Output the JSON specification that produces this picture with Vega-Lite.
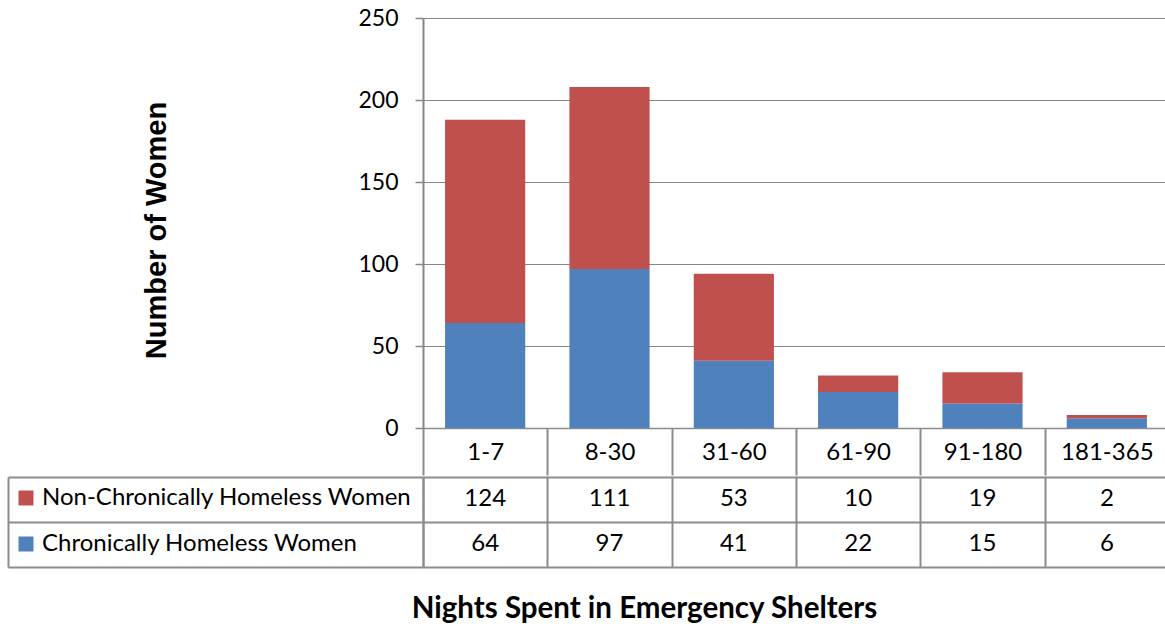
{
  "$schema": "https://vega.github.io/schema/vega-lite/v6.json",
  "padding": {"left": 7, "top": 7, "right": 0, "bottom": 0},
  "background": "white",
  "config": {"view": {"stroke": null}, "font": "Lato"},
  "datasets": {
    "w": [
      {"nights": "1-7", "group": "Chronically Homeless Women", "women": 64},
      {"nights": "1-7", "group": "Non-Chronically Homeless Women", "women": 124},
      {"nights": "8-30", "group": "Chronically Homeless Women", "women": 97},
      {"nights": "8-30", "group": "Non-Chronically Homeless Women", "women": 111},
      {"nights": "31-60", "group": "Chronically Homeless Women", "women": 41},
      {"nights": "31-60", "group": "Non-Chronically Homeless Women", "women": 53},
      {"nights": "61-90", "group": "Chronically Homeless Women", "women": 22},
      {"nights": "61-90", "group": "Non-Chronically Homeless Women", "women": 10},
      {"nights": "91-180", "group": "Chronically Homeless Women", "women": 15},
      {"nights": "91-180", "group": "Non-Chronically Homeless Women", "women": 19},
      {"nights": "181-365", "group": "Chronically Homeless Women", "women": 6},
      {"nights": "181-365", "group": "Non-Chronically Homeless Women", "women": 2}
    ]
  },
  "spacing": 0,
  "resolve": {"scale": {"color": "independent"}, "legend": {"color": "independent"}},
  "vconcat": [
    {
      "width": 746,
      "height": 410,
      "data": {"name": "w"},
      "mark": {"type": "bar", "width": {"band": 0.645}},
      "encoding": {
        "x": {
          "field": "nights", "type": "nominal", "sort": null,
          "scale": {"paddingInner": 0, "paddingOuter": 0},
          "axis": {
            "title": null, "labelAngle": 0, "labelFont": "Lato", "labelFontSize": 24,
            "labelColor": "black", "labelPadding": -23, "labelBaseline": "middle",
            "tickBand": "extent", "tickSize": 47, "tickColor": "#8c8c8c", "tickWidth": 2,
            "domainColor": "#8c8c8c", "domainWidth": 1.5, "grid": false
          }
        },
        "y": {
          "field": "women", "type": "quantitative", "stack": "zero",
          "scale": {"domain": [0, 250]},
          "axis": {
            "values": [0, 50, 100, 150, 200, 250],
            "title": "Number of Women", "titleFont": "Liberation Sans", "titleFontSize": 29,
            "titleFontWeight": "bold", "titleColor": "black", "titlePadding": 186, "titleY": 212,
            "labelFont": "Lato", "labelFontSize": 23, "labelColor": "black", "labelPadding": 17,
            "tickSize": 8, "tickColor": "#868686", "tickWidth": 1.5,
            "domainColor": "#868686", "domainWidth": 2,
            "grid": true, "gridColor": "#868686", "gridWidth": 1
          }
        },
        "color": {
          "field": "group", "type": "nominal",
          "scale": {"domain": ["Non-Chronically Homeless Women", "Chronically Homeless Women"], "range": ["#C0504D", "#4F81BD"]},
          "legend": null
        },
        "order": {"field": "group", "sort": "ascending"}
      }
    },
    {
      "width": 746,
      "height": 90,
      "data": {"name": "w"},
      "resolve": {"axis": {"y": "independent"}},
      "layer": [
        {
          "mark": {"type": "text", "font": "Lato", "fontSize": 24, "color": "black", "dy": -1},
          "encoding": {
            "text": {"field": "women", "type": "quantitative"},
            "x": {
              "field": "nights", "type": "nominal", "sort": null,
              "scale": {"paddingInner": 0, "paddingOuter": 0},
              "axis": {
                "orient": "bottom", "grid": true, "gridColor": "#8c8c8c", "gridWidth": 2,
                "tickBand": "extent", "labels": false, "ticks": false, "domain": false,
                "title": "Nights Spent in Emergency Shelters", "titleFont": "Lato",
                "titleFontSize": 29.5, "titleFontWeight": "bold", "titleColor": "black",
                "titleX": 221, "titlePadding": 27
              }
            },
            "y": {
              "field": "group", "type": "nominal",
              "sort": ["Non-Chronically Homeless Women", "Chronically Homeless Women"],
              "scale": {"paddingInner": 0, "paddingOuter": 0},
              "axis": {
                "title": null, "labels": false, "grid": true, "gridColor": "#8c8c8c", "gridWidth": 2,
                "tickBand": "extent", "tickSize": 415, "tickColor": "#8c8c8c", "tickWidth": 2,
                "domainColor": "#8c8c8c", "domainWidth": 2
              }
            }
          }
        },
        {
          "mark": {"type": "square", "opacity": 0},
          "encoding": {
            "y": {
              "field": "group", "type": "nominal",
              "sort": ["Non-Chronically Homeless Women", "Chronically Homeless Women"],
              "axis": {
                "orient": "left", "title": null, "labels": false, "ticks": false, "grid": false,
                "offset": 415, "domainColor": "#8c8c8c", "domainWidth": 2
              }
            },
            "color": {
              "field": "group", "type": "nominal",
              "scale": {"domain": ["Non-Chronically Homeless Women", "Chronically Homeless Women"], "range": ["#C0504D", "#4F81BD"]},
              "legend": {
                "orient": "none", "legendX": -409, "legendY": 9, "title": null,
                "symbolType": "square", "symbolSize": 225, "symbolStrokeWidth": 0, "symbolOpacity": 1,
                "labelFont": "Lato", "labelFontSize": 24, "labelColor": "black", "labelOffset": 4,
                "rowPadding": 22, "labelLimit": 500, "padding": 0
              }
            }
          }
        }
      ]
    }
  ]
}
